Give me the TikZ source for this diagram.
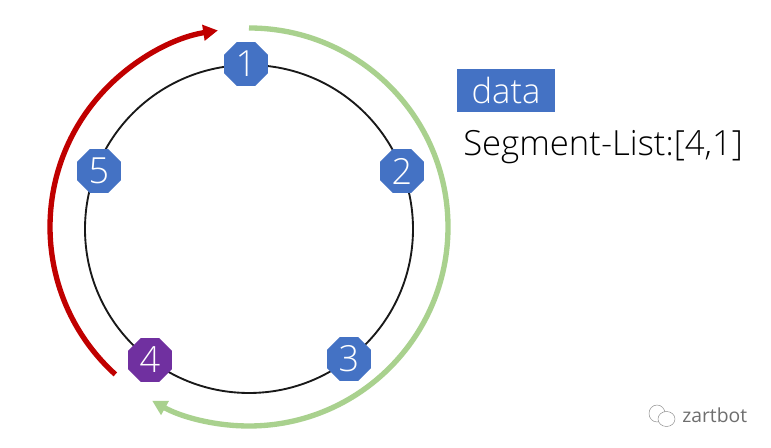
\documentclass[tikz,border=0pt]{standalone}
\usepackage{fontspec}
\setmainfont{Open Sans Light}
\newfontfamily\regularfont{Open Sans}
\usetikzlibrary{shapes.geometric,arrows.meta}
\definecolor{nodeblue}{HTML}{4472C4}
\definecolor{nodepurple}{HTML}{7030A0}
\definecolor{arcgreen}{HTML}{A9D18E}
\definecolor{arcred}{HTML}{C00000}
\definecolor{marktext}{HTML}{6E6E6E}
\tikzset{
  octa/.style={regular polygon,regular polygon sides=8,minimum size=35.7pt,inner sep=0pt,outer sep=0pt,fill=nodeblue,text=white,font=\fontsize{27}{27}\selectfont},
  ringline/.style={draw=black!90,line width=1.4pt},
  greenarc/.style={draw=arcgreen,line width=4pt,-{Triangle[length=11pt,width=11.5pt]}},
  redarc/.style={draw=arcred,line width=4pt,-{Triangle[length=11pt,width=11.5pt]}},
  labeltext/.style={inner sep=0pt,anchor=base west,font=\fontsize{26}{26}\selectfont},
  markline/.style={draw=marktext!80,line width=0.35pt}
}
\begin{document}
\begin{tikzpicture}[x=0.75pt,y=0.75pt]
\useasboundingbox (0,0) rectangle (771,448);
\fill[white] (0,0) rectangle (771,448);
% ring
\coordinate (centre) at (249,219);
\draw[ringline] (centre) circle[radius=164];
% arcs
\coordinate (arcmid) at (249,221);
\draw[greenarc] (arcmid) ++(90:199) arc[start angle=90,end angle=-119.1,radius=199];
\draw[redarc] (arcmid) ++(227.8:199) arc[start angle=227.8,end angle=99,radius=199];
% nodes
\node[octa] (n1) at (246,384) {1};
\node[octa] (n2) at (402,277) {2};
\node[octa] (n3) at (349,89) {3};
\node[octa,fill=nodepurple] (n4) at (150,88) {4};
\node[octa] (n5) at (99,277) {5};
% labels
\fill[nodeblue] (457,336) rectangle (555,379);
\node[labeltext,text=white,anchor=base] (data) at (506,344) {data};
\node[labeltext] (seg) at (463,292) {Segment-List:[4,1]};
% watermark
\draw[markline] (657,34.5) ellipse[x radius=8,y radius=8.5];
\draw[markline,fill=white] (666.5,29) ellipse[x radius=8.5,y radius=7.5];
\node[inner sep=0pt,anchor=base west,text=marktext,font=\regularfont\fontsize{14.5}{15}\selectfont] (mark) at (682,25) {zartbot};
\end{tikzpicture}
\end{document}
